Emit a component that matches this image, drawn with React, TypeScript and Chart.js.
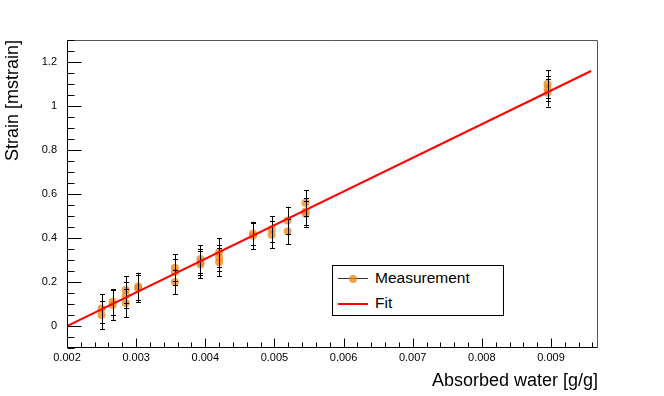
import React, { useEffect, useRef } from 'react';
import { Chart, registerables } from 'chart.js';

Chart.register(...registerables);

// ---- data ----
const absorbedWater = [
  0.0025, 0.0025,
  0.00266, 0.00266,
  0.00285, 0.00285, 0.00285,
  0.00303, 0.00303,
  0.00356, 0.00356, 0.00356,
  0.00393, 0.00393, 0.00393,
  0.0042, 0.0042, 0.0042,
  0.00469, 0.00469,
  0.00496, 0.00496,
  0.00519, 0.00519,
  0.00545, 0.00545, 0.00545,
  0.00895, 0.00895, 0.00895,
];
const strain = [
  0.08, 0.05,
  0.11, 0.095,
  0.165, 0.14, 0.105,
  0.18, 0.17,
  0.265, 0.245, 0.2,
  0.305, 0.29, 0.28,
  0.335, 0.31, 0.29,
  0.42, 0.41,
  0.44, 0.415,
  0.48, 0.43,
  0.56, 0.52, 0.51,
  1.1, 1.08, 1.06,
];
const strainError = [
  0.065, 0.065,
  0.058, 0.068,
  0.062, 0.06, 0.065,
  0.062, 0.062,
  0.062, 0.06, 0.056,
  0.063, 0.06, 0.063,
  0.065, 0.06, 0.063,
  0.054, 0.06,
  0.06, 0.062,
  0.062, 0.057,
  0.058, 0.06, 0.059,
  0.064, 0.058, 0.063,
];
const fitX = [0.002, 0.00958];
const fitY = [0.0, 1.159];

const xTicks = [0.002, 0.003, 0.004, 0.005, 0.006, 0.007, 0.008, 0.009];
const yTicks = [0, 0.2, 0.4, 0.6, 0.8, 1.0, 1.2];
const xRange = [0.002, 0.00968];
const yRange = [-0.1, 1.3];

const FONT = '"Liberation Sans", Arial, Helvetica, sans-serif';
const ORANGE = 'rgba(240,130,20,0.75)';

const errorBars = {
  id: 'errorBars',
  afterDatasetDraw(chart: any, args: any) {
    if (args.index !== 0) return;
    const { ctx } = chart;
    const xs = chart.scales.x;
    const ys = chart.scales.y;
    ctx.save();
    ctx.strokeStyle = '#000';
    ctx.lineWidth = 1;
    for (let i = 0; i < absorbedWater.length; i++) {
      const px = Math.round(xs.getPixelForValue(absorbedWater[i])) + 0.5;
      const top = ys.getPixelForValue(strain[i] + strainError[i]);
      const bot = ys.getPixelForValue(strain[i] - strainError[i]);
      ctx.beginPath();
      ctx.moveTo(px, top);
      ctx.lineTo(px, bot);
      ctx.moveTo(px - 2.5, Math.round(top) + 0.5);
      ctx.lineTo(px + 2.5, Math.round(top) + 0.5);
      ctx.moveTo(px - 2.5, Math.round(bot) + 0.5);
      ctx.lineTo(px + 2.5, Math.round(bot) + 0.5);
      ctx.stroke();
    }
    ctx.restore();
  },
};

const frameTicks = {
  id: 'frameTicks',
  afterDraw(chart: any) {
    const { ctx, chartArea: a } = chart;
    const xs = chart.scales.x;
    const ys = chart.scales.y;
    const L = Math.round(a.left) + 0.5;
    const R = Math.round(a.right) - 0.5;
    const T = Math.round(a.top) + 0.5;
    const B = Math.round(a.bottom) - 0.5;
    ctx.save();
    ctx.lineWidth = 1;
    ctx.strokeStyle = '#555';
    ctx.beginPath();
    ctx.moveTo(L, T);
    ctx.lineTo(R, T);
    ctx.lineTo(R, B);
    ctx.stroke();
    ctx.strokeStyle = '#000';
    ctx.beginPath();
    ctx.moveTo(L, T);
    ctx.lineTo(L, B);
    ctx.lineTo(R, B);
    // x ticks
    const xStep = xTicks[1] - xTicks[0];
    const xMinor = xStep / 5;
    for (let k = 0; ; k++) {
      const v = xRange[0] + k * xMinor;
      if (v > xRange[1] + 1e-12) break;
      const px = Math.round(xs.getPixelForValue(v)) + 0.5;
      const len = k % 5 === 0 ? 9 : 5;
      ctx.moveTo(px, B);
      ctx.lineTo(px, B - len);
    }
    // y ticks
    const yStep = yTicks[1] - yTicks[0];
    const yMinor = yStep / 4;
    const start = Math.ceil((yRange[0] - 1e-9) / yMinor);
    for (let k = start; ; k++) {
      const v = k * yMinor;
      if (v > yRange[1] + 1e-9) break;
      const py = Math.round(ys.getPixelForValue(v)) + 0.5;
      const len = k % 4 === 0 ? 14 : 7;
      ctx.moveTo(L, py);
      ctx.lineTo(L + len, py);
    }
    ctx.stroke();
    ctx.restore();
  },
};

export default function App() {
  const ref = useRef<HTMLCanvasElement | null>(null);

  useEffect(() => {
    document.body.style.margin = '0';
    const canvas = ref.current;
    if (!canvas) return;
    const chart = new Chart(canvas, {
      type: 'scatter',
      data: {
        datasets: [
          {
            label: 'Measurement',
            data: absorbedWater.map((x, i) => ({ x, y: strain[i] })),
            backgroundColor: ORANGE,
            borderColor: ORANGE,
            pointRadius: 4,
            pointBorderWidth: 0,
            showLine: false,
            order: 2,
          },
          {
            label: 'Fit',
            data: fitX.map((x, i) => ({ x, y: fitY[i] })),
            borderColor: '#ff0000',
            backgroundColor: '#ff0000',
            borderWidth: 2,
            pointRadius: 0,
            showLine: true,
            order: 1,
          },
        ],
      },
      options: {
        animation: false,
        responsive: false,
        devicePixelRatio: 1,
        layout: { padding: { left: 0, right: 66, top: 40, bottom: 0 } },
        plugins: { legend: { display: false }, tooltip: { enabled: false } },
        scales: {
          x: {
            type: 'linear',
            min: xRange[0],
            max: xRange[1],
            afterBuildTicks: (s: any) => { s.ticks = xTicks.map((value) => ({ value })); },
            afterFit: (s: any) => { s.height = 48; },
            grid: { display: false, drawTicks: false },
            border: { display: false },
            ticks: {
              padding: 3,
              maxRotation: 0,
              color: '#000',
              font: { family: FONT, size: 11 },
              callback: (v: any) => Number(v).toFixed(3),
            },
            title: {
              display: true,
              text: 'Absorbed water [g/g]',
              align: 'end',
              color: '#000',
              font: { family: FONT, size: 18 },
              padding: { top: 0, bottom: 4 },
            },
          },
          y: {
            type: 'linear',
            min: yRange[0],
            max: yRange[1],
            afterBuildTicks: (s: any) => { s.ticks = yTicks.map((value) => ({ value })); },
            afterFit: (s: any) => { s.width = 67; },
            grid: { display: false, drawTicks: false },
            border: { display: false },
            ticks: {
              padding: 10,
              color: '#000',
              font: { family: FONT, size: 11 },
              callback: (v: any) => String(parseFloat(Number(v).toFixed(1))),
            },
            title: {
              display: true,
              text: 'Strain [mstrain]',
              align: 'end',
              color: '#000',
              font: { family: FONT, size: 18 },
              padding: { top: 2, bottom: 0 },
            },
          },
        },
      },
      plugins: [errorBars, frameTicks],
    } as any);
    return () => chart.destroy();
  }, []);

  const rowText: React.CSSProperties = {
    position: 'absolute',
    left: 42,
    fontFamily: FONT,
    fontSize: 15.5,
    lineHeight: '18px',
    color: '#000',
    whiteSpace: 'nowrap',
  };

  return (
    <div style={{ position: 'fixed', left: 0, top: 0, width: 664, height: 396, background: '#fff' }}>
      <canvas ref={ref} width={664} height={396} style={{ display: 'block' }} />
      <div
        style={{
          position: 'absolute',
          left: 332,
          top: 265,
          width: 172,
          height: 51,
          boxSizing: 'border-box',
          border: '1px solid #000',
          background: '#fff',
        }}
      >
        <div style={{ position: 'absolute', left: 5, top: 12, width: 30, height: 1, background: '#333' }} />
        <div style={{ position: 'absolute', left: 16, top: 8.5, width: 8, height: 8, borderRadius: 4, background: ORANGE }} />
        <div style={{ ...rowText, top: 3 }}>Measurement</div>
        <div style={{ position: 'absolute', left: 5, top: 36.5, width: 30, height: 2, background: '#ff0000' }} />
        <div style={{ ...rowText, top: 28 }}>Fit</div>
      </div>
    </div>
  );
}
